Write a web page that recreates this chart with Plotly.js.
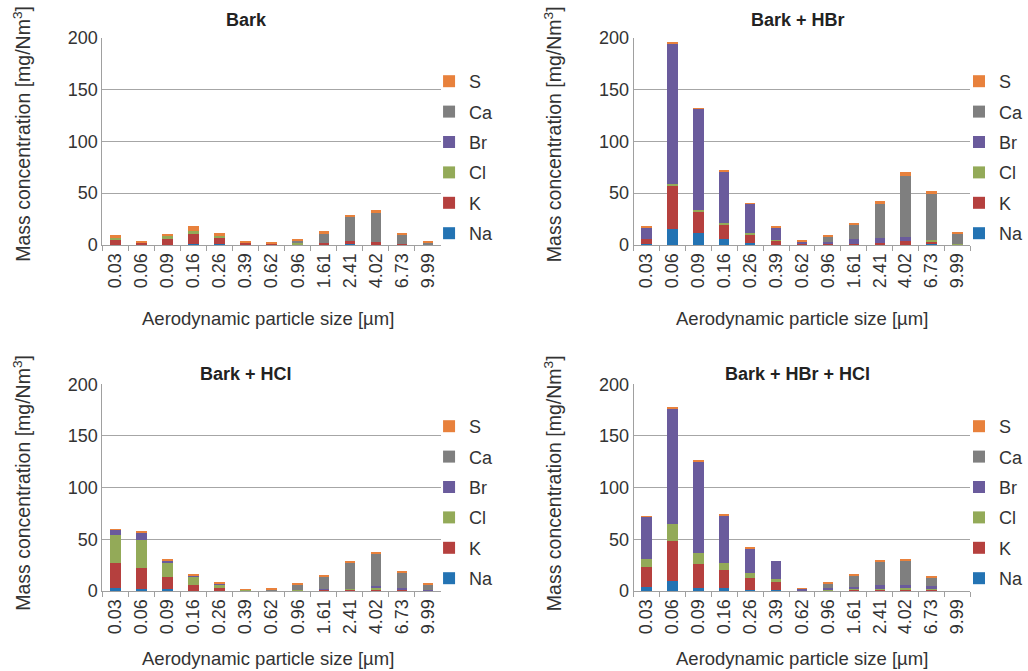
<!DOCTYPE html>
<html>
<head>
<meta charset="utf-8">
<script src="https://cdn.plot.ly/plotly-3.0.1.min.js"></script>
<style>html,body{margin:0;padding:0;background:#fff;}#chart{width:1028px;height:671px;}</style>
</head>
<body>
<div id="chart"></div>
<script>
// Categories: aerodynamic particle size [µm]
const sizes = ["0.03","0.06","0.09","0.16","0.26","0.39","0.62","0.96","1.61","2.41","4.02","6.73","9.99"];
const species = ["Na","K","Cl","Br","Ca","S"];

// Panel: Bark
const barkNa = [0,0,0,0.8,0.8,0,0,0,0,0.8,0,0,0];
const barkK  = [4.8,2.6,6.8,11,7,3,2,1,2.2,2.9,3.2,1,0];
const barkCl = [3,0.3,1.5,1.5,0.6,0,0,0.5,0,0,0,0,0];
const barkBr = [0,0,0,0,0,0,0,0,0,0,0,0,0];
const barkCa = [0,0,0,0,0,0,0,3.5,9.6,23.8,28.6,9.3,2.4];
const barkS  = [1.5,1,2.2,5,3.5,0.9,0.6,0.8,1.9,1.3,1.9,1,0.8];

// Panel: Bark + HBr
const hbrNa = [1,15.2,11.3,5.5,1.6,0,0,0,0,0,0,1,0];
const hbrK  = [4.5,41.3,20.3,14.5,9,4.8,0.5,0.5,1,2.3,3.9,2.6,0];
const hbrCl = [0,2.6,2.2,1.6,1.3,0.5,0,0,0,0,0,1.3,0.8];
const hbrBr = [11.6,136,97.7,49.4,28,11.5,3,2.3,4.5,4.5,3.9,0,0];
const hbrCa = [0,0,0,0,0,0,0,5.5,14.2,33.2,58.4,44.5,10.8];
const hbrS  = [0.9,0.5,0.5,1.3,0.6,1.3,1,1,1.3,2.9,3.9,2.6,1];

// Panel: Bark + HCl
const hclNa = [2.9,2,1.6,0,0,0,0,0,0,0,0,0,0];
const hclK  = [24.4,20,12.3,5.8,2.9,0.3,0.3,0.3,1.3,1,1.3,1.3,0];
const hclCl = [27.3,27.6,13.3,7.5,2.9,0.4,0,0.7,0,0.7,2,0,0];
const hclBr = [4.5,7.1,2,1.6,1.3,0,0,0,0.5,0.6,1.3,1.3,1];
const hclCa = [0,0,0,0,0,0,1.3,5.2,11.8,24.4,30.8,14.6,4.9];
const hclS  = [0.4,1,1,0.6,0.6,0.8,0.7,0.9,1,2.6,2.3,1.3,0.6];

// Panel: Bark + HBr + HCl
const bothNa = [3.9,9.2,2.6,3,1.3,0.8,0,0,0,0,0,0,0];
const bothK  = [19.3,38.9,23.9,17.3,11.4,7.5,0.5,0.5,1,1.3,1.3,1.3,0];
const bothCl = [7.8,16.3,10.5,6.5,4.9,2.9,0,1,0.7,1,1.3,0.5,0];
const bothBr = [40.8,111.6,88,46,23.5,18.3,1.5,1,2.6,3.5,3,2.6,0];
const bothCa = [0,0,0,0,0,0,0,4.5,10.6,22.6,23.2,8,0];
const bothS  = [0.3,1,1,0.8,1.3,0,0.5,1,1.3,1.6,2.3,1.3,0];

const panelTitles = ["Bark","Bark + HBr","Bark + HCl","Bark + HBr + HCl"];
const colors = {Na:"#2373b3", K:"#b5403e", Cl:"#93aa58", Br:"#6a5b9c", Ca:"#7f7f7f", S:"#e8813c"};

const panels = [
  [barkNa,barkK,barkCl,barkBr,barkCa,barkS],
  [hbrNa,hbrK,hbrCl,hbrBr,hbrCa,hbrS],
  [hclNa,hclK,hclCl,hclBr,hclCa,hclS],
  [bothNa,bothK,bothCl,bothBr,bothCa,bothS]
];

const W = 1028, H = 671;
const px = v => v / W;
const py = v => 1 - v / H;

// panel geometry (pixels)
const geo = [
  {x0:103, x1:444, top:37.7, bot:245},
  {x0:638, x1:977, top:37.7, bot:245},
  {x0:103, x1:444, top:384.3, bot:591},
  {x0:638, x1:977, top:384.3, bot:591}
];

const traces = [];
panels.forEach((vals, p) => {
  const ax = p === 0 ? "" : String(p + 1);
  species.forEach((sp, i) => {
    traces.push({
      type: "bar",
      x: sizes,
      y: vals[i],
      name: sp,
      xaxis: "x" + ax,
      yaxis: "y" + ax,
      legend: p === 0 ? "legend" : "legend" + (p + 1),
      legendgroup: "g" + p + sp,
      legendrank: 100 - i,
      marker: {color: colors[sp], line: {width: 0}},
      hoverinfo: "x+y+name"
    });
  });
});

const font = "Liberation Sans, Arial, sans-serif";
const layout = {
  width: W, height: H,
  margin: {l:0, r:0, t:0, b:0},
  paper_bgcolor: "#fff", plot_bgcolor: "#fff",
  barmode: "stack",
  bargap: 0.6,
  font: {family: font, color: "#333", size: 18},
  showlegend: true,
  annotations: []
};

const legendX = [432, 966, 432, 966];
const legendY = [63, 63, 408, 408];

geo.forEach((g, p) => {
  const ax = p === 0 ? "" : String(p + 1);
  layout["xaxis" + ax] = {
    type: "category",
    domain: [px(g.x0), px(g.x1)],
    anchor: "y" + ax,
    showline: true, linecolor: "#a0a0a0", linewidth: 1,
    ticks: "outside", tickson: "boundaries", ticklen: 5, tickcolor: "#a0a0a0",
    tickangle: -90,
    tickfont: {family: font, size: 18, color: "#333"},
    showgrid: false, zeroline: false, fixedrange: true
  };
  layout["yaxis" + ax] = {
    domain: [py(g.bot), py(g.top)],
    anchor: "x" + ax,
    range: [0, 200], dtick: 50,
    showline: true, linecolor: "#a0a0a0", linewidth: 1,
    showgrid: true, gridcolor: "#a6a6a6", gridwidth: 1,
    ticks: "", zeroline: false,
    tickfont: {family: font, size: 18, color: "#333"},
    fixedrange: true
  };
  layout[p === 0 ? "legend" : "legend" + (p + 1)] = {
    x: px(legendX[p]), y: py(legendY[p]), xanchor: "left", yanchor: "top",
    traceorder: "grouped", tracegroupgap: 4,
    font: {family: font, size: 18, color: "#333"},
    bgcolor: "rgba(0,0,0,0)", itemwidth: 30
  };
  layout.annotations.push({
    text: "<b>" + panelTitles[p] + "</b>", xref: "paper", yref: "paper",
    x: px(p % 2 === 0 ? 248 : 803), y: py(p < 2 ? 20 : 374),
    xanchor: "center", yanchor: "middle", showarrow: false,
    font: {family: font, size: 18, color: "#222"}
  });
  layout.annotations.push({
    text: "Mass concentration [mg/Nm<sup>3</sup>]", xref: "paper", yref: "paper",
    x: px(p % 2 === 0 ? 22 : 557), y: py(p < 2 ? 134 : 483),
    xanchor: "center", yanchor: "middle", textangle: -90, showarrow: false,
    font: {family: font, size: 19.5, color: "#333"}
  });
  layout.annotations.push({
    text: "Aerodynamic particle size [µm]", xref: "paper", yref: "paper",
    x: px(p % 2 === 0 ? 270 : 808), y: py(p < 2 ? 318 : 658),
    xanchor: "center", yanchor: "middle", showarrow: false,
    font: {family: font, size: 18.5, color: "#333"}
  });
});

Plotly.newPlot("chart", traces, layout, {displayModeBar: false, responsive: false});
</script>
</body>
</html>
